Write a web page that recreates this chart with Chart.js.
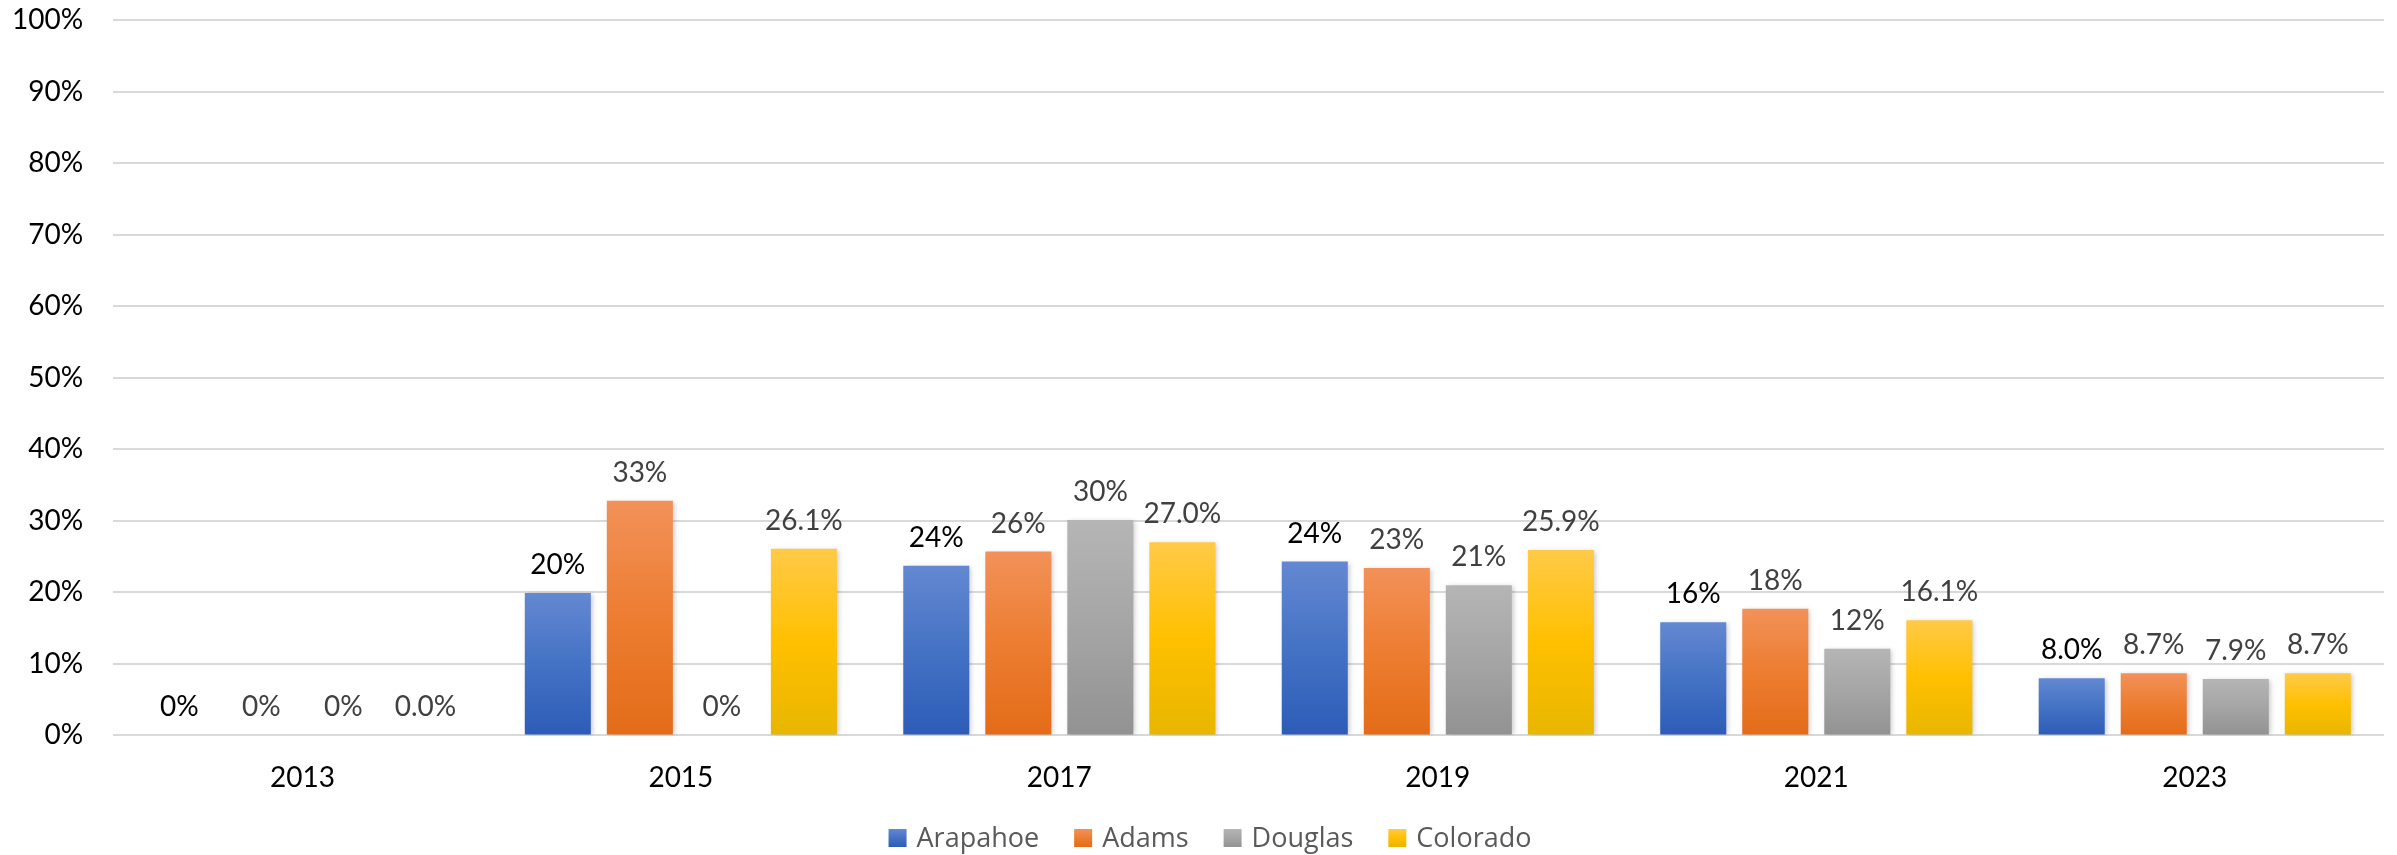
<!DOCTYPE html>
<html>
<head>
<meta charset="utf-8">
<script src="https://cdn.jsdelivr.net/npm/chart.js@4.4.0/dist/chart.umd.min.js"></script>
<style>
  html, body { margin: 0; padding: 0; background: #fff; }
  #wrap { width: 2397px; height: 855px; }
</style>
</head>
<body>
<div id="wrap"><canvas id="barChart"></canvas></div>
<script>
const years = ['2013', '2015', '2017', '2019', '2021', '2023'];
const seriesNames = ['Arapahoe', 'Adams', 'Douglas', 'Colorado'];

const arapahoe = [0, 19.9, 23.7, 24.3, 15.8, 8.0];
const adams = [0, 32.8, 25.7, 23.4, 17.7, 8.7];
const douglas = [0, 0, 30.1, 21.0, 12.1, 7.9];
const colorado = [0, 26.1, 27.0, 25.9, 16.1, 8.7];

// label text as printed on the chart
const arapahoeLabels = ['0%', '20%', '24%', '24%', '16%', '8.0%'];
const adamsLabels = ['0%', '33%', '26%', '23%', '18%', '8.7%'];
const douglasLabels = ['0%', '0%', '30%', '21%', '12%', '7.9%'];
const coloradoLabels = ['0.0%', '26.1%', '27.0%', '25.9%', '16.1%', '8.7%'];

const yTicks = [0, 10, 20, 30, 40, 50, 60, 70, 80, 90, 100];

// light / base / dark for each series
const shades = [
    ['#6488d2', '#4472c4', '#2d5cb8'],
    ['#f29159', '#ed7d31', '#e36c18'],
    ['#b5b5b5', '#a5a5a5', '#929292'],
    ['#ffca48', '#ffc000', '#e8b600']
];
const labelColors = ['#000000', '#404040', '#404040', '#404040'];

function vGradient(ctx, top, bottom, c) {
    const g = ctx.createLinearGradient(0, top, 0, bottom);
    g.addColorStop(0, c[0]);
    g.addColorStop(0.5, c[1]);
    g.addColorStop(1, c[2]);
    return g;
}

function barFill(i) {
    return function (context) {
        const chart = context.chart;
        if (!chart.chartArea || context.parsed === undefined) return shades[i][1];
        const y = chart.scales.y;
        const top = y.getPixelForValue(context.parsed.y);
        const bottom = y.getPixelForValue(0);
        if (bottom - top < 1) return shades[i][1];
        return vGradient(chart.ctx, top, bottom, shades[i]);
    };
}

const allLabels = [arapahoeLabels, adamsLabels, douglasLabels, coloradoLabels];

const barShadow = {
    id: 'barShadow',
    beforeDatasetsDraw(chart) {
        const ctx = chart.ctx;
        ctx.save();
        ctx.shadowColor = 'rgba(0,0,0,0.22)';
        ctx.shadowBlur = 5;
        ctx.shadowOffsetX = 2;
        ctx.shadowOffsetY = 1;
    },
    afterDatasetsDraw(chart) {
        chart.ctx.restore();
    }
};

const barLabels = {
    id: 'barLabels',
    afterDatasetsDraw(chart) {
        const ctx = chart.ctx;
        ctx.save();
        ctx.font = '28px Lato';
        ctx.textAlign = 'center';
        ctx.textBaseline = 'alphabetic';
        chart.data.datasets.forEach((ds, i) => {
            const meta = chart.getDatasetMeta(i);
            ctx.fillStyle = labelColors[i];
            meta.data.forEach((bar, j) => {
                ctx.fillText(allLabels[i][j], bar.x, bar.y - 19);
            });
        });
        ctx.restore();
    }
};

// legend row under the axis, spaced like the office chart
const bottomLegend = {
    id: 'bottomLegend',
    afterDraw(chart) {
        const ctx = chart.ctx;
        const box = 18, gapText = 10, gapItem = 35;
        const midX = 1210, midY = 838;
        ctx.save();
        ctx.font = '27px "Open Sans"';
        ctx.textBaseline = 'middle';
        const widths = seriesNames.map(n => ctx.measureText(n).width);
        let total = 0;
        widths.forEach(w => { total += box + gapText + w; });
        total += gapItem * (seriesNames.length - 1);
        let x = midX - total / 2;
        seriesNames.forEach((name, i) => {
            ctx.fillStyle = vGradient(ctx, midY - box / 2, midY + box / 2, shades[i]);
            ctx.fillRect(x, midY - box / 2, box, box);
            x += box + gapText;
            ctx.fillStyle = '#595959';
            ctx.fillText(name, x, midY + 1);
            x += widths[i] + gapItem;
        });
        ctx.restore();
    }
};

function draw() {
    const ctx = document.getElementById('barChart').getContext('2d');
    const values = [arapahoe, adams, douglas, colorado];

    new Chart(ctx, {
        type: 'bar',
        data: {
            labels: years,
            datasets: seriesNames.map((name, i) => ({
                label: name,
                data: values[i],
                backgroundColor: barFill(i),
                borderWidth: 0,
                categoryPercentage: 0.867,
                barPercentage: 0.805
            }))
        },
        plugins: [barShadow, barLabels, bottomLegend],
        options: {
            responsive: true,
            maintainAspectRatio: false,
            animation: false,
            layout: {
                padding: { top: 20, left: -18, right: 13, bottom: 34 }
            },
            plugins: {
                legend: { display: false },
                tooltip: { enabled: false }
            },
            scales: {
                y: {
                    min: 0,
                    max: 100,
                    afterBuildTicks(axis) {
                        axis.ticks = yTicks.map(v => ({ value: v }));
                    },
                    afterFit(axis) {
                        axis.paddingTop = 0;
                        axis.paddingBottom = 0;
                    },
                    ticks: {
                        color: '#000000',
                        padding: 30,
                        font: { family: 'Lato', size: 28 },
                        callback: v => v + '%'
                    },
                    grid: {
                        color: '#d9d9d9',
                        lineWidth: 2,
                        drawTicks: false
                    },
                    border: { display: false }
                },
                x: {
                    ticks: {
                        color: '#000000',
                        padding: 26,
                        font: { family: 'Lato', size: 28 }
                    },
                    grid: { display: false, drawTicks: false },
                    border: { display: false }
                }
            }
        }
    });
}

Promise.all([
    document.fonts.load('28px Lato'),
    document.fonts.load('27px "Open Sans"')
]).then(draw, draw);
</script>
</body>
</html>
